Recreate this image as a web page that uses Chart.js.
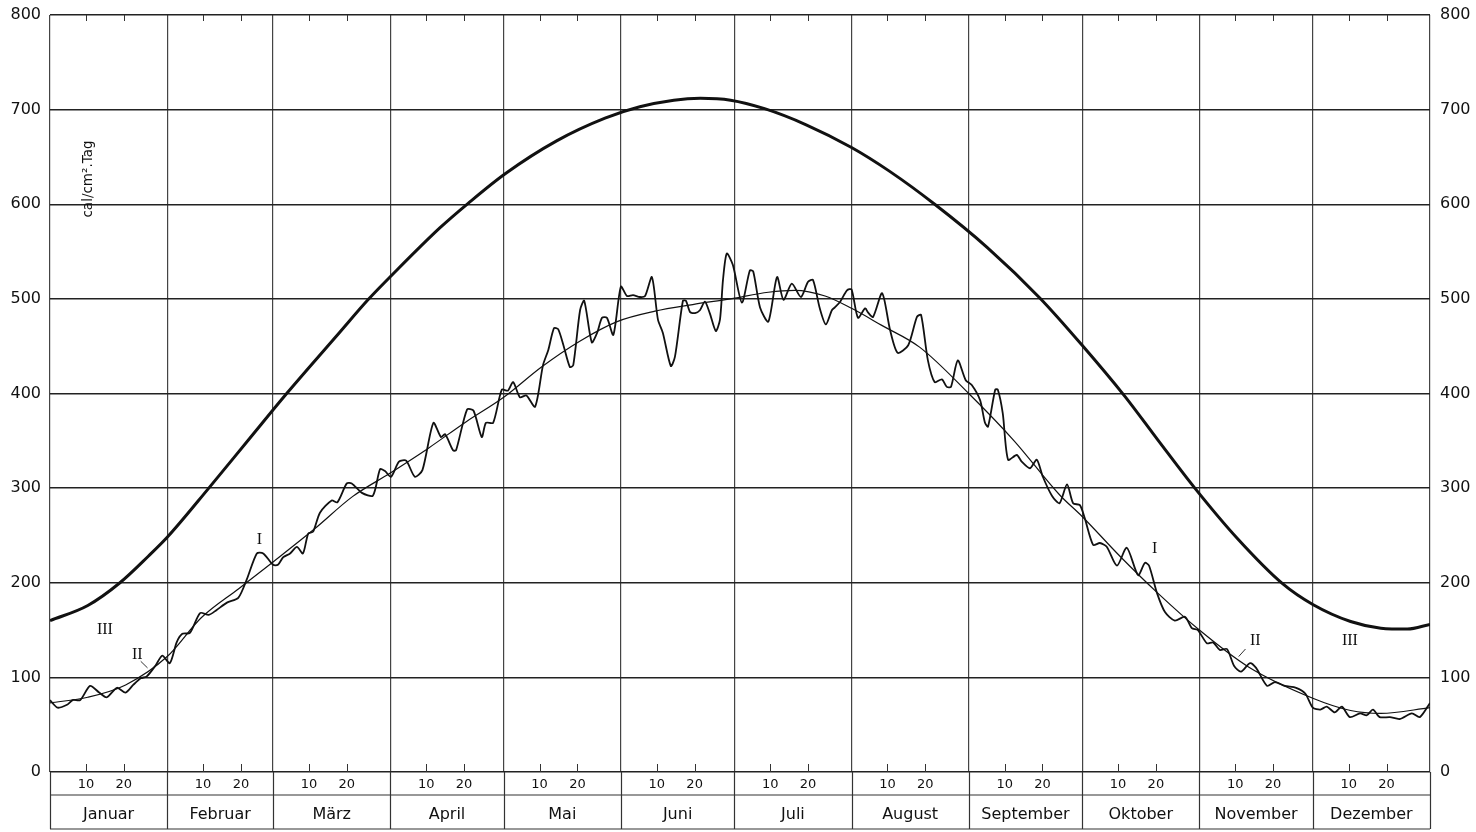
<!DOCTYPE html>
<html>
<head>
<meta charset="utf-8">
<script src="https://cdn.jsdelivr.net/npm/chart.js@4.4.1/dist/chart.umd.min.js"></script>
<style>
  html, body { margin: 0; padding: 0; background: #fff; }
</style>
</head>
<body>
<canvas id="grafico" width="1476" height="832"></canvas>
<script>
// Tage des Jahres, an denen jeder Monat beginnt (letzter Wert = Jahresende)
const monatsAnfang = [0, 31, 59, 90, 120, 151, 181, 212, 243, 273, 304, 334, 365];
const monatsNamen = ['Januar', 'Februar', 'März', 'April', 'Mai', 'Juni', 'Juli',
                     'August', 'September', 'Oktober', 'November', 'Dezember'];
const tagEtiketten = ['10', '20'];
const yEtiketten = [0, 100, 200, 300, 400, 500, 600, 700, 800];

// Kurve III: [Tag, cal/cm2.Tag]
const kurveIII = [
  [0, 160], [10, 176], [18.5, 200], [26, 228], [31, 248], [42, 300], [52.9, 353],
  [62.6, 400], [76.7, 465], [84.1, 499], [90.4, 525], [103.1, 575], [110.6, 601],
  [120.3, 632], [134, 667], [146.8, 691], [156, 703], [165, 710], [172, 712],
  [180, 710], [189, 701], [200, 684], [212, 660], [222, 635], [234, 600], [248, 554],
  [261.8, 501], [273, 451], [284.3, 397], [293, 351], [302.8, 300], [314, 247],
  [326, 199], [334, 177], [344, 159], [352, 152], [359, 151], [365, 156]
];

// Kurve II: geglättet
const kurveII = [
  [0, 73], [10, 79], [20, 92], [31, 122], [40, 163], [50, 194], [59, 222], [70, 257],
  [80, 291], [90, 316], [100, 342], [110, 370], [120, 396], [130, 428], [140, 455],
  [150, 476], [160, 487], [170, 494], [180, 500], [190, 507], [197, 509], [205, 503],
  [212, 490], [220, 472], [230, 449], [243, 400], [255, 350], [267, 293], [273, 270],
  [283, 228], [293, 189], [304, 150], [317, 111], [334, 78], [344, 65], [352, 62],
  [365, 68]
];

// Kurve I: Tageswerte
const kurveI = [
  [0, 76], [2, 68], [4.5, 71], [6, 76], [8, 76], [10.6, 91], [13, 84], [15, 79],
  [17.7, 89], [20, 84], [22, 92], [24, 99], [25.6, 101], [28, 113], [29.7, 123],
  [31.7, 115], [33.5, 137], [35, 146], [37, 147], [39.7, 168], [42, 166], [44, 171],
  [46.8, 179], [49.8, 184], [52, 203], [54.7, 231], [56.4, 231], [59, 219], [60.3, 219],
  [61.7, 227], [63.5, 231], [65.3, 238], [66.9, 231], [68.3, 252], [69.6, 254],
  [71.4, 274], [74.5, 287], [76, 285], [78.5, 305], [79.8, 305], [82.5, 295],
  [85.4, 292], [87.3, 320], [88.6, 318], [90.2, 312], [92.3, 328], [94.2, 329],
  [96.5, 312], [98.5, 319], [101.4, 369], [103.4, 354], [104.5, 357], [106.6, 340],
  [107.4, 340], [110.3, 383], [112, 382], [114.2, 354], [115.3, 369], [117.2, 369],
  [119.5, 404], [121.1, 403], [122.5, 412], [124.3, 396], [126, 398], [128.3, 386],
  [130.4, 430], [131.8, 446], [133.3, 469], [134.4, 468], [135.8, 451], [137.5, 428],
  [138.4, 430], [140.2, 488], [141.3, 498], [143.3, 454], [144.7, 464], [146, 480],
  [147.3, 480], [149, 462], [151, 513], [152.6, 503], [154.2, 504], [156, 502],
  [157.4, 503], [159.2, 523], [160.8, 478], [162.1, 464], [164.2, 429], [165.3, 439],
  [167.4, 498], [168.2, 498], [169.3, 486], [170.6, 485], [171.9, 488], [173.2, 497],
  [174.5, 485], [176.1, 466], [177.2, 478], [178, 520], [179, 548], [180.6, 536],
  [183, 496], [185.1, 530], [186, 529], [187.8, 491], [190, 476], [192.3, 523],
  [194, 499], [196.2, 516], [198.6, 502], [200.5, 518], [201.8, 520], [203.6, 490],
  [205.2, 473], [206.8, 488], [207.6, 491], [209, 497], [210.8, 509], [212, 510],
  [213.7, 480], [215.6, 490], [216.3, 486], [217.7, 481], [220.1, 506], [222.2, 467],
  [224.2, 443], [227, 451], [229.3, 481], [230.4, 483], [232.2, 435], [234, 412],
  [235.9, 415], [237.2, 407], [238.3, 407], [240.1, 435], [242.2, 414], [243.8, 409],
  [246, 393], [247.3, 369], [248.1, 365], [250, 404], [250.7, 404], [252, 379],
  [253.4, 330], [255.7, 335], [257, 328], [259.2, 321], [261, 330], [262.6, 312],
  [265, 292], [267, 284], [269, 304], [270.6, 284], [272.4, 282], [273.7, 268],
  [275.9, 240], [277.7, 242], [279.5, 238], [282.2, 218], [284.8, 237], [287.8, 208],
  [289.6, 221], [290.7, 218], [292.8, 189], [294.9, 169], [297.5, 160], [300.2, 164],
  [302, 152], [303.6, 150], [306, 136], [307.6, 137], [309.4, 129], [311.3, 130],
  [313.2, 112], [315, 106], [317.4, 115], [319, 110], [321.9, 91], [324, 95],
  [326.6, 91], [329.6, 89], [332, 83], [334, 68], [336, 66], [337.7, 69], [339.8, 63],
  [341.7, 69], [343.8, 58], [346.5, 62], [348.3, 60], [349.9, 66], [351.7, 58],
  [354.4, 58], [357, 56], [360.2, 62], [362.3, 58], [365, 73]
];

// Beschriftungen der Kurven: [Text, Tag, Wert]
const kurvenNamen = [
  ['III', 12.4, 150], ['II', 21.7, 124], ['I', 54.7, 245],
  ['I', 291.5, 236], ['II', 317.4, 139], ['III', 341.7, 139]
];

const aPuntos = arr => arr.map(p => ({ x: p[0], y: p[1] }));

const posDias = [];
monatsAnfang.slice(0, 12).forEach(d => {
  tagEtiketten.forEach(t => posDias.push(d + Number(t) - 0.5));
});
const centrosMes = monatsAnfang.slice(0, 12).map((d, i) => (d + monatsAnfang[i + 1]) / 2);

const marcoInferior = {
  id: 'marcoInferior',
  afterDraw(chart) {
    const { ctx, chartArea, scales } = chart;
    const x = scales.x;
    const y = scales.y;
    const filaDias = scales.x.bottom;
    const filaMeses = scales.xm.bottom;
    ctx.save();
    ctx.strokeStyle = '#333';
    ctx.lineWidth = 1.2;
    ctx.beginPath();
    ctx.moveTo(chartArea.left, filaDias);
    ctx.lineTo(chartArea.right, filaDias);
    ctx.moveTo(chartArea.left, filaMeses);
    ctx.lineTo(chartArea.right, filaMeses);
    monatsAnfang.forEach(d => {
      const px = Math.round(x.getPixelForValue(d)) + 0.5;
      ctx.moveTo(px, chartArea.bottom);
      ctx.lineTo(px, filaMeses);
    });
    ctx.stroke();

    // kleine Tagesstriche oben und unten
    ctx.lineWidth = 1;
    ctx.beginPath();
    posDias.forEach(d => {
      const px = Math.round(x.getPixelForValue(d)) + 0.5;
      ctx.moveTo(px, chartArea.bottom);
      ctx.lineTo(px, chartArea.bottom - 8);
      ctx.moveTo(px, chartArea.top);
      ctx.lineTo(px, chartArea.top + 6);
    });
    ctx.stroke();

    // Kurvennamen
    ctx.fillStyle = '#111';
    ctx.font = '16px "Liberation Serif"';
    ctx.textAlign = 'left';
    ctx.textBaseline = 'middle';
    kurvenNamen.forEach(k => {
      ctx.fillText(k[0], x.getPixelForValue(k[1]), y.getPixelForValue(k[2]));
    });
    ctx.lineWidth = 1;
    ctx.beginPath();
    ctx.moveTo(x.getPixelForValue(24), y.getPixelForValue(117));
    ctx.lineTo(x.getPixelForValue(25.8), y.getPixelForValue(110));
    ctx.moveTo(x.getPixelForValue(316.2), y.getPixelForValue(130));
    ctx.lineTo(x.getPixelForValue(314.4), y.getPixelForValue(122));
    ctx.stroke();

    // Einheit
    ctx.translate(chartArea.left + 38, 179);
    ctx.rotate(-Math.PI / 2);
    ctx.textAlign = 'center';
    ctx.font = '13.5px "DejaVu Sans"';
    ctx.fillText('cal/cm\u00B2.Tag', 0, 0);
    ctx.restore();
  }
};

const fuenteTicks = { family: 'DejaVu Sans', size: 16 };

new Chart(document.getElementById('grafico').getContext('2d'), {
  type: 'line',
  data: {
    datasets: [
      {
        label: 'III',
        data: aPuntos(kurveIII),
        borderColor: '#111',
        borderWidth: 3,
        pointRadius: 0,
        cubicInterpolationMode: 'monotone',
        fill: false
      },
      {
        label: 'II',
        data: aPuntos(kurveII),
        borderColor: '#111',
        borderWidth: 1.2,
        pointRadius: 0,
        cubicInterpolationMode: 'monotone',
        fill: false
      },
      {
        label: 'I',
        data: aPuntos(kurveI),
        borderColor: '#111',
        borderWidth: 1.8,
        pointRadius: 0,
        tension: 0.25,
        fill: false
      }
    ]
  },
  options: {
    responsive: false,
    animation: false,
    events: [],
    layout: { padding: { top: 15, bottom: 3, left: 0, right: 0 } },
    plugins: { legend: { display: false }, tooltip: { enabled: false } },
    scales: {
      x: {
        type: 'linear',
        position: 'bottom',
        min: 0,
        max: 365,
        grid: { display: false, drawTicks: false },
        border: { display: false },
        afterBuildTicks: s => { s.ticks = posDias.map(v => ({ value: v })); },
        afterFit: s => { s.height = 23; },
        ticks: {
          autoSkip: false,
          maxRotation: 0,
          padding: 5,
          color: '#111',
          font: { family: 'DejaVu Sans', size: 13 },
          callback: (v, i) => tagEtiketten[i % 2]
        }
      },
      xm: {
        type: 'linear',
        position: 'bottom',
        min: 0,
        max: 365,
        grid: { display: false, drawTicks: false },
        border: { display: false },
        afterBuildTicks: s => { s.ticks = centrosMes.map(v => ({ value: v })); },
        afterFit: s => { s.height = 34; },
        ticks: {
          autoSkip: false,
          maxRotation: 0,
          padding: 10,
          color: '#111',
          font: { family: 'DejaVu Sans', size: 16 },
          callback: (v, i) => monatsNamen[i]
        }
      },
      xg: {
        type: 'linear',
        position: 'top',
        min: 0,
        max: 365,
        border: { display: false },
        grid: { color: '#444', lineWidth: 1.2, drawTicks: false },
        afterBuildTicks: s => { s.ticks = monatsAnfang.map(v => ({ value: v })); },
        afterFit: s => { s.height = 0; },
        ticks: { display: false }
      },
      y: {
        type: 'linear',
        position: 'left',
        min: 0,
        max: 800,
        afterBuildTicks: s => { s.ticks = yEtiketten.map(v => ({ value: v })); },
        afterFit: s => { s.width = 50; },
        grid: { color: '#222', lineWidth: 1.4, drawTicks: true, tickLength: 9, tickColor: 'rgba(0,0,0,0)' },
        border: { display: false },
        ticks: { padding: 0, color: '#111', font: fuenteTicks }
      },
      y2: {
        type: 'linear',
        position: 'right',
        min: 0,
        max: 800,
        afterBuildTicks: s => { s.ticks = yEtiketten.map(v => ({ value: v })); },
        afterFit: s => { s.width = 46; },
        grid: { display: false, drawTicks: true, tickLength: 10, tickColor: 'rgba(0,0,0,0)' },
        border: { display: false },
        ticks: { padding: 0, color: '#111', font: fuenteTicks }
      }
    }
  },
  plugins: [marcoInferior]
});
</script>
</body>
</html>
